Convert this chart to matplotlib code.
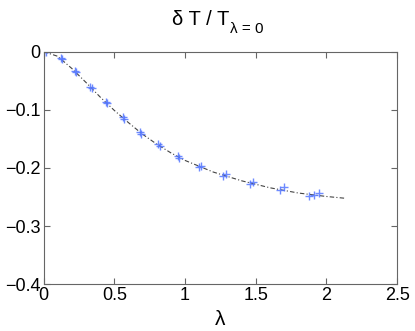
import matplotlib
matplotlib.use('Agg')
import matplotlib.pyplot as plt
import numpy as np

plt.rcParams['font.family'] = ['Liberation Sans', 'DejaVu Sans']

# measured points (several runs per lambda value)
lam_pts = [0.00, 0.02, 0.12, 0.13, 0.22, 0.23, 0.33, 0.34, 0.44, 0.45,
           0.56, 0.57, 0.68, 0.69, 0.81, 0.82, 0.95, 0.96, 1.10, 1.11,
           1.27, 1.29, 1.46, 1.48, 1.67, 1.70, 1.88, 1.91, 1.95]
dT_pts = [0.000, 0.000, -0.011, -0.013, -0.033, -0.035, -0.060, -0.062,
          -0.087, -0.089, -0.113, -0.116, -0.138, -0.141, -0.159, -0.162,
          -0.179, -0.182, -0.199, -0.196, -0.214, -0.211, -0.227, -0.224,
          -0.238, -0.233, -0.249, -0.246, -0.243]

# fitted curve
lam_fit = [0.0, 0.1, 0.2, 0.3, 0.4, 0.5, 0.6, 0.7, 0.8, 0.9, 1.0,
           1.2, 1.4, 1.6, 1.8, 2.0, 2.13]
dT_fit = [0.000, -0.008, -0.029, -0.053, -0.078, -0.101, -0.122, -0.142,
          -0.159, -0.174, -0.187, -0.207, -0.222, -0.234, -0.243, -0.249,
          -0.252]

fig = plt.figure(figsize=(4.15, 3.31), dpi=100)
ax = fig.add_axes([0.105, 0.141, 0.852, 0.703])

ax.plot(lam_fit, dT_fit, color='#444444', ls='-.', lw=0.8, dashes=(4, 2, 1, 2))
ax.plot(lam_pts, dT_pts, '+', color='#5577ff', ms=6, mew=1.0, alpha=0.85)

ax.set_xlim(0, 2.5)
ax.set_ylim(-0.4, 0)
ax.set_xticks(np.arange(0, 2.51, 0.5))
ax.set_xticklabels(['0', '0.5', '1', '1.5', '2', '2.5'])
ax.set_yticks([-0.4, -0.3, -0.2, -0.1, 0])
ax.set_yticklabels(['\u22120.4', '\u22120.3', '\u22120.2', '\u22120.1', '0'])
ax.tick_params(direction='in', top=True, right=True, labelsize=13,
               length=4, width=0.8, color='#666666', pad=2)
for s in ax.spines.values():
    s.set_color('#666666')
    s.set_linewidth(0.8)

ax.set_xlabel('λ', fontsize=15, labelpad=4)

# title with subscript, placed as two pieces
main = fig.text(172 / 415, 0.924, 'δ T / T', fontsize=14.5, ha='left', va='baseline')
fig.canvas.draw()
bb = main.get_window_extent()
fig.text((bb.x1 + 1) / 415, 0.899, 'λ = 0', fontsize=11, ha='left', va='baseline')

fig.savefig('out.png', dpi=100)
